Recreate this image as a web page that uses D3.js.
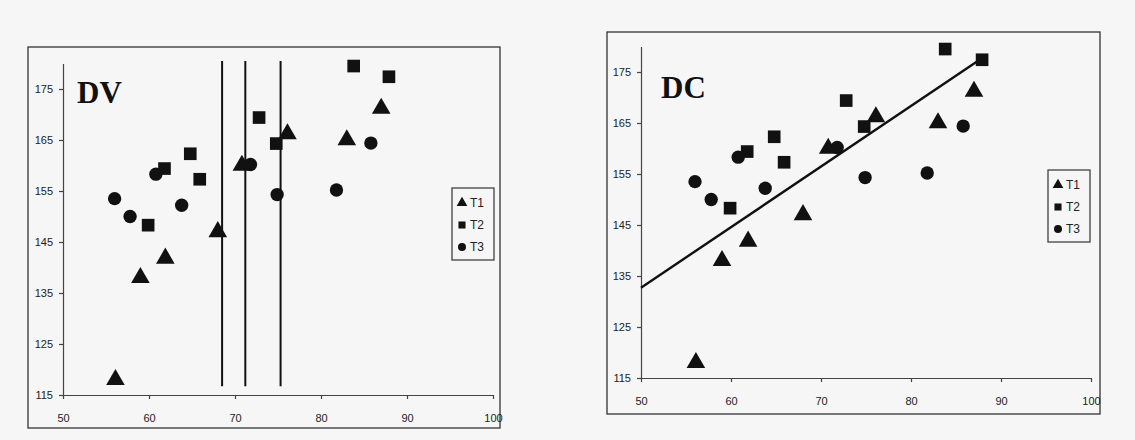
<!DOCTYPE html>
<head>
<meta charset="utf-8">
<script src="https://cdn.jsdelivr.net/npm/d3@7"></script>
<style>
body { margin: 0; background: #f6f6f6; }
.axis text { font-family: "Liberation Sans", Arial, sans-serif; font-size: 11px; fill: #222; }
.axis path, .axis line { stroke: #444; stroke-width: 1.2; }
</style>
</head>
<body>
<svg width="1135" height="440"></svg>

<script>
// values: [x, y]
var t1 = [[56.1,118],[59.0,138],[61.9,141.8],[68.0,147],[70.8,160],[76.1,166.2],[83.0,165],[87.0,171.2]];
var t2 = [[59.9,148.3],[61.8,159.4],[64.8,162.3],[65.9,157.3],[72.8,169.4],[74.8,164.3],[83.8,179.5],[87.9,177.4]];
var t3 = [[56.0,153.5],[57.8,150.0],[60.8,158.3],[63.8,152.2],[71.8,160.2],[74.9,154.3],[81.8,155.2],[85.8,164.4]];
var seriesNames = ["T1", "T2", "T3"];

var xTicks = [50, 60, 70, 80, 90, 100];
var yTicks = [115, 125, 135, 145, 155, 165, 175];

// DV: vertical dividers, DC: fitted line
var dvLines = [68.5, 71.2, 75.3];
var dvLineSpan = [116.7, 180.5];
var dcTrend = [[50, 132.7], [87.3, 177.0]];

var svg = d3.select("svg");

var symbols = [d3.symbolTriangle, d3.symbolSquare, d3.symbolCircle];
var sizes = [150, 160, 140];
var allSeries = [t1, t2, t3];

function drawPanel(p) {
    var g = svg.append("g");

    g.append("rect")
        .attr("x", p.box[0]).attr("y", p.box[1])
        .attr("width", p.box[2] - p.box[0]).attr("height", p.box[3] - p.box[1])
        .attr("fill", "none").attr("stroke", "#333").attr("stroke-width", 1.3);

    var x = d3.scaleLinear().domain([50, 100]).range(p.xr);
    var y = d3.scaleLinear().domain([115, 180]).range(p.yr);

    g.append("g")
        .attr("class", "axis")
        .attr("transform", "translate(0," + p.yr[0] + ")")
        .call(d3.axisBottom(x).tickValues(xTicks).tickSize(4).tickSizeOuter(0).tickPadding(15));

    g.append("g")
        .attr("class", "axis")
        .attr("transform", "translate(" + p.xr[0] + ",0)")
        .call(d3.axisLeft(y).tickValues(yTicks).tickSize(4).tickSizeOuter(0).tickPadding(6));

    g.append("text")
        .attr("x", p.title[0]).attr("y", p.title[1])
        .attr("font-family", "Liberation Serif, Times New Roman, serif")
        .attr("font-weight", "bold")
        .attr("font-size", 31)
        .attr("fill", "#111")
        .text(p.name);

    if (p.name == "DV") {
        g.selectAll(".vline")
            .data(dvLines)
            .enter().append("line")
            .attr("x1", function(d) { return x(d); })
            .attr("x2", function(d) { return x(d); })
            .attr("y1", y(dvLineSpan[0]))
            .attr("y2", y(dvLineSpan[1]))
            .attr("stroke", "#111")
            .attr("stroke-width", 2);
    } else {
        g.append("line")
            .attr("x1", x(dcTrend[0][0])).attr("y1", y(dcTrend[0][1]))
            .attr("x2", x(dcTrend[1][0])).attr("y2", y(dcTrend[1][1]))
            .attr("stroke", "#111")
            .attr("stroke-width", 2.4);
    }

    allSeries.forEach(function(s, i) {
        g.selectAll(".s" + i)
            .data(s)
            .enter().append("path")
            .attr("d", d3.symbol().type(symbols[i]).size(sizes[i]))
            .attr("transform", function(d) { return "translate(" + x(d[0]) + "," + y(d[1]) + ")"; })
            .attr("fill", "#111");
    });

    var lg = g.append("g").attr("transform", "translate(" + p.legend[0] + "," + p.legend[1] + ")");
    lg.append("rect")
        .attr("width", 42).attr("height", 72)
        .attr("fill", "none").attr("stroke", "#333").attr("stroke-width", 1.2);

    var item = lg.selectAll(".item")
        .data(seriesNames)
        .enter().append("g")
        .attr("transform", function(d, i) { return "translate(0," + (15 + i * 22) + ")"; });

    item.append("path")
        .attr("d", function(d, i) { return d3.symbol().type(symbols[i]).size(50)(); })
        .attr("transform", "translate(10,0)")
        .attr("fill", "#111");

    item.append("text")
        .attr("x", 18)
        .attr("dy", "0.35em")
        .attr("font-family", "Liberation Sans, Arial, sans-serif")
        .attr("font-size", 12)
        .attr("fill", "#222")
        .text(function(d) { return d; });
}

drawPanel({name: "DV", box: [28, 47, 500, 428], xr: [63, 493], yr: [395, 63.5], title: [77, 103], legend: [452, 188]});
drawPanel({name: "DC", box: [607, 32, 1100, 414], xr: [641, 1091], yr: [378, 46.5], title: [661, 98], legend: [1048, 170]});
</script>
</body>
